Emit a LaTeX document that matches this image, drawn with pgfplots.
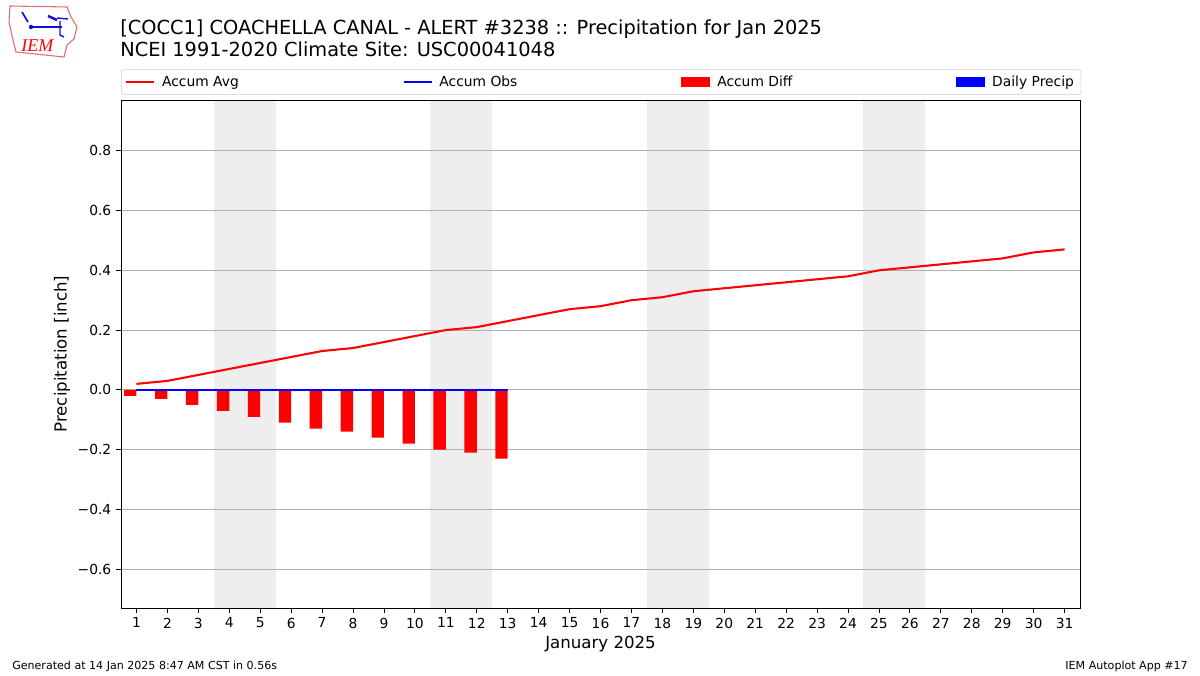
\documentclass[border=0pt]{standalone}
\usepackage{pgfplots}
\pgfplotsset{compat=1.18}
\usepackage{fontspec}
\setmainfont{DejaVu Sans}
\newfontfamily\logofont{Liberation Serif}
\definecolor{shade}{HTML}{EEEEEE}
\definecolor{gridc}{HTML}{B0B0B0}
\definecolor{mred}{HTML}{FF0000}
\definecolor{mblue}{HTML}{0000FF}
\definecolor{logored}{HTML}{E07070}
\definecolor{logoblue}{HTML}{1010D0}
\begin{document}
\begin{tikzpicture}
\begin{scope}[x=0.72bp,y=-0.72bp,yshift=486bp]
\path (0,0) rectangle (1200,675);
% logo
\draw[logored, line width=0.8pt] (10,6) -- (67,7) -- (71,17) -- (77,27) -- (74,39) -- (67,45) -- (64,57) -- (16,52) -- (13,40) -- (9,22) -- cycle;
\node[anchor=base west, inner sep=0, text=mred, font=\logofont\itshape\fontsize{13}{15}\selectfont] at (21,52) {IEM};
\draw[logoblue, line width=1.2pt] (31,27) -- (62,27);
\fill[logoblue] (31,27) circle (2.2);
\draw[logoblue, line width=1.2pt] (22,12) -- (28,22);
\draw[logoblue, line width=1.8pt] (48,16) -- (57,20);
\draw[logoblue, line width=1.0pt] (60,21) -- (60,35) -- (64,37);
\draw[logoblue, line width=1.0pt] (57,18) -- (68,19);
% titles
\node[anchor=base west, inner sep=0, font=\fontsize{14}{17}\selectfont] at (120,35) {[COCC1] COACHELLA CANAL - ALERT \#3238 :: Precipitation for Jan 2025};
\node[anchor=base west, inner sep=0, font=\fontsize{14}{17}\selectfont] at (120,57) {NCEI 1991-2020 Climate Site: USC00041048};
% footer
\node[anchor=base west, inner sep=0, font=\fontsize{8}{10}\selectfont] at (12,669) {Generated at 14 Jan 2025 8:47 AM CST in 0.56s};
\node[anchor=base east, inner sep=0, font=\fontsize{8}{10}\selectfont] at (1188,669) {IEM Autoplot App \#17};
\end{scope}
\begin{axis}[
  at={(87.12bp,48.24bp)}, anchor=south west,
  scale only axis, width=690.48bp, height=365.76bp,
  set layers,
  xmin=0.5, xmax=31.5, ymin=-0.73, ymax=0.97,
  xtick={1,...,31},
  ytick={-0.6,-0.4,-0.2,0,0.2,0.4,0.6,0.8},
  yticklabels={−0.6,−0.4,−0.2,0.0,0.2,0.4,0.6,0.8},
  ymajorgrids, grid style={gridc, line width=0.7pt},
  axis line style={line width=0.6pt},
  tick style={black, line width=0.6pt},
  major tick length=3.5pt, tick align=outside, tick pos=left,
  ticklabel style={font=\fontsize{10}{12}\selectfont},
  /pgf/number format/assume math mode=true,
  xlabel={January 2025}, ylabel={Precipitation [inch]},
  label style={font=\fontsize{12}{14}\selectfont},
  xlabel style={anchor=center, at={(axis description cs:0.5,-0.0709)}},
  ylabel style={anchor=center, at={(axis description cs:-0.0615,0.5)}},
  legend columns=4,
  legend cell align=left,
  legend style={at={(0,1)}, anchor=south west, yshift=3.6bp, draw=gray!40, rounded corners=2pt,
    font=\fontsize{10}{12}\selectfont, inner xsep=3pt, inner ysep=2.5pt,
    /tikz/every even column/.append style={column sep=116.0bp}},
]
\addlegendimage{legend image code/.code={\draw[mred, line width=1.5pt, sharp corners] (0bp,0bp) -- (20.16bp,0bp); \path (23.5bp,0bp);}}
\addlegendentry{Accum Avg}
\addlegendimage{legend image code/.code={\draw[mblue, line width=1.5pt, sharp corners] (0bp,0bp) -- (20.16bp,0bp); \path (23.5bp,0bp);}}
\addlegendentry{Accum Obs}
\addlegendimage{legend image code/.code={\fill[mred, sharp corners] (0bp,-3.2bp) rectangle (20.16bp,3.2bp); \path (23.5bp,0bp);}}
\addlegendentry{Accum Diff}
\addlegendimage{legend image code/.code={\fill[mblue, sharp corners] (0bp,-3.2bp) rectangle (20.16bp,3.2bp); \path (23.5bp,0bp);}}
\addlegendentry{Daily Precip}
% weekends
\addplot[fill=shade, draw=none, on layer=axis background, forget plot] coordinates {(3.5,-0.73) (5.5,-0.73) (5.5,0.97) (3.5,0.97)} -- cycle;
\addplot[fill=shade, draw=none, on layer=axis background, forget plot] coordinates {(10.5,-0.73) (12.5,-0.73) (12.5,0.97) (10.5,0.97)} -- cycle;
\addplot[fill=shade, draw=none, on layer=axis background, forget plot] coordinates {(17.5,-0.73) (19.5,-0.73) (19.5,0.97) (17.5,0.97)} -- cycle;
\addplot[fill=shade, draw=none, on layer=axis background, forget plot] coordinates {(24.5,-0.73) (26.5,-0.73) (26.5,0.97) (24.5,0.97)} -- cycle;
% accum diff bars
\addplot[ybar, bar width=0.4, bar shift=-0.2, fill=mred, draw=none, forget plot] coordinates {
(1,-0.02) (2,-0.03) (3,-0.05) (4,-0.07) (5,-0.09) (6,-0.11) (7,-0.13) (8,-0.14) (9,-0.16) (10,-0.18) (11,-0.20) (12,-0.21) (13,-0.23)};
% accum avg
\addplot[mred, line width=1.5pt, forget plot] coordinates {
(1,0.02) (2,0.03) (3,0.05) (4,0.07) (5,0.09) (6,0.11) (7,0.13) (8,0.14) (9,0.16) (10,0.18)
(11,0.20) (12,0.21) (13,0.23) (14,0.25) (15,0.27) (16,0.28) (17,0.30) (18,0.31) (19,0.33) (20,0.34)
(21,0.35) (22,0.36) (23,0.37) (24,0.38) (25,0.40) (26,0.41) (27,0.42) (28,0.43) (29,0.44) (30,0.46) (31,0.47)};
% accum obs
\addplot[mblue, line width=1.5pt, forget plot] coordinates {
(1,0) (2,0) (3,0) (4,0) (5,0) (6,0) (7,0) (8,0) (9,0) (10,0) (11,0) (12,0) (13,0)};
\end{axis}
\end{tikzpicture}
\end{document}
